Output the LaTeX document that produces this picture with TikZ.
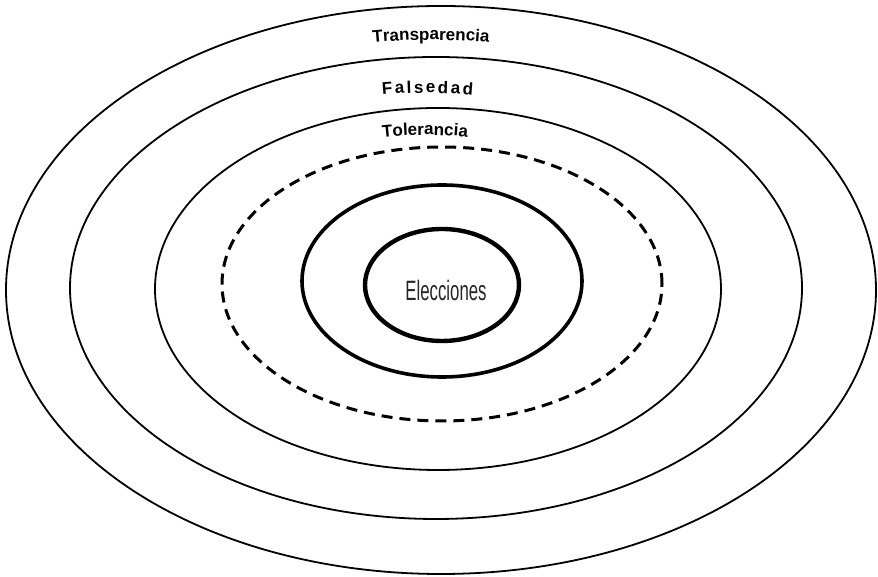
\documentclass[tikz,border=0pt]{standalone}
\usepackage{fontspec}
\setmainfont{Liberation Sans}
\usetikzlibrary{shapes.geometric,decorations.text,calc}
\newcommand\lblfont{\bfseries\fontsize{17pt}{19pt}\selectfont}
\begin{document}
\begin{tikzpicture}[x=1pt,y=1pt,
  ring/.style={draw, ellipse, inner sep=0pt, line width=1.8pt},
  dashring/.style={draw, ellipse, inner sep=0pt, line width=3pt, dash pattern=on 11pt off 7pt},
  thickring/.style={draw, ellipse, inner sep=0pt, line width=3.6pt},
  arclabel/.style={decorate, decoration={text along path, text align=center, text format delimiters={|}{|}, text={|\lblfont|#1}}},
  fitlabel/.style={decorate, decoration={text along path, text align=fit to path, text format delimiters={|}{|}, text={|\lblfont|#1}}}
]
\useasboundingbox (0,0) rectangle (878,577);
\node[ring, minimum width=870pt, minimum height=568pt] (e1) at (441,287) {};
\node[ring, minimum width=732pt, minimum height=462pt] (e2) at (436,289) {};
\node[ring, minimum width=566pt, minimum height=362pt] (e3) at (438,288) {};
\node[dashring, minimum width=440pt, minimum height=274pt] (ed) at (442,293) {};
\node[thickring, minimum width=280pt, minimum height=192pt] (e4) at (442,296) {};
\node[thickring, line width=4.4pt, minimum width=154pt, minimum height=112pt] (e5) at (442,292) {};
\node[text=black!85] (elec) at (446,286) {\scalebox{0.6}[1]{\fontsize{28pt}{30pt}\selectfont Elecciones}};
\path[arclabel=Transparencia] ($(431,287)+(110:400 and 250)$) arc[start angle=110, end angle=70, x radius=400, y radius=250];
\path[fitlabel=Falsedad] ($(427.5,287)+(98:325 and 197)$) arc[start angle=98, end angle=82, x radius=325, y radius=197];
\path[arclabel=Tolerancia] ($(425,287)+(115:250 and 155)$) arc[start angle=115, end angle=65, x radius=250, y radius=155];
\end{tikzpicture}
\end{document}
